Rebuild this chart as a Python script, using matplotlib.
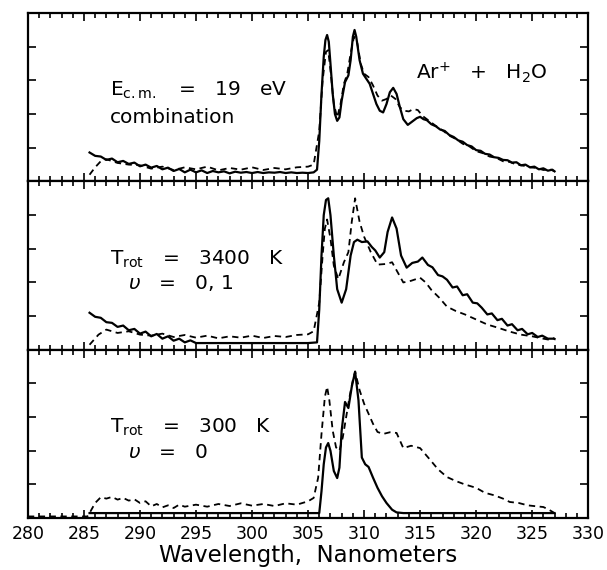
import matplotlib
matplotlib.use("Agg")
import matplotlib.pyplot as plt
from matplotlib.ticker import MultipleLocator

# Emission spectra, Ar+ + H2O; intensities in arbitrary units (0-5 per panel)

# Panel 1: Ecm = 19 eV, combination (solid) vs experiment (dashed)
p1_solid_x = [285.5, 286.0, 286.5, 287.0, 287.5, 288.0, 288.5, 289.0, 289.5, 290.0,
              290.5, 291.0, 291.5, 292.0, 292.5, 293.0, 293.5, 294.0, 294.5, 295.0,
              295.5, 296.0, 296.5, 297.0, 297.5, 298.0, 298.5, 299.0, 299.5, 300.0,
              300.5, 301.0, 301.5, 302.0, 302.5, 303.0, 303.5, 304.0, 304.5, 305.0,
              305.5, 305.8, 306.0, 306.2, 306.4, 306.55, 306.7, 306.85, 307.0, 307.2,
              307.4, 307.6, 307.8, 308.0, 308.3, 308.6, 308.8, 309.0, 309.15, 309.3,
              309.6, 309.9, 310.2, 310.5, 310.8, 311.1, 311.4, 311.7, 312.0, 312.3,
              312.6, 312.9, 313.2, 313.5, 313.9, 314.3, 314.7, 315.0, 315.3, 315.6,
              316.0, 316.4, 316.8, 317.2, 317.6, 318.0, 318.4, 318.8, 319.2, 319.6,
              320.0, 320.4, 320.8, 321.2, 321.6, 322.0, 322.4, 322.8, 323.2, 323.6,
              324.0, 324.4, 324.8, 325.2, 325.6, 326.0, 326.4, 326.8, 327.0]
p1_solid_y = [0.86, 0.76, 0.74, 0.64, 0.68, 0.57, 0.61, 0.52, 0.56, 0.45,
              0.50, 0.41, 0.46, 0.36, 0.41, 0.31, 0.37, 0.27, 0.35, 0.27,
              0.33, 0.25, 0.31, 0.27, 0.30, 0.24, 0.29, 0.26, 0.28, 0.25,
              0.28, 0.25, 0.27, 0.26, 0.28, 0.25, 0.27, 0.25, 0.26, 0.25,
              0.27, 0.35, 1.20, 2.60, 3.70, 4.20, 4.35, 4.15, 3.50, 2.60,
              2.00, 1.80, 1.90, 2.40, 2.95, 3.15, 3.60, 4.30, 4.50, 4.30,
              3.60, 3.20, 3.05, 2.90, 2.60, 2.30, 2.10, 2.05, 2.30, 2.65,
              2.78, 2.60, 2.20, 1.85, 1.68, 1.78, 1.88, 1.92, 1.85, 1.82,
              1.70, 1.64, 1.54, 1.50, 1.38, 1.32, 1.22, 1.18, 1.08, 1.04,
              0.93, 0.91, 0.82, 0.80, 0.72, 0.70, 0.64, 0.63, 0.56, 0.57,
              0.48, 0.50, 0.42, 0.44, 0.36, 0.39, 0.32, 0.35, 0.30]
p1_dash_x = [285.5, 286.0, 286.5, 287.0, 288.0, 289.0, 290.0, 291.0, 292.0, 293.0,
             294.0, 295.0, 296.0, 297.0, 298.0, 299.0, 300.0, 301.0, 302.0, 303.0,
             304.0, 305.0, 305.5, 306.0, 306.3, 306.6, 306.8, 307.0, 307.3, 307.6,
             307.9, 308.2, 308.5, 308.8, 309.1, 309.4, 309.7, 310.0, 310.4, 310.8,
             311.2, 311.6, 312.0, 312.4, 312.8, 313.2, 313.6, 314.0, 314.4, 314.8,
             315.2, 315.8, 316.4, 317.0, 317.6, 318.2, 318.8, 319.4, 320.0, 320.6,
             321.2, 321.8, 322.4, 323.0, 323.6, 324.2, 324.8, 325.4, 326.0, 326.6, 327.0]
p1_dash_y = [0.20, 0.42, 0.60, 0.66, 0.55, 0.50, 0.48, 0.38, 0.44, 0.34,
             0.42, 0.36, 0.44, 0.33, 0.40, 0.35, 0.42, 0.34, 0.40, 0.36,
             0.42, 0.44, 0.50, 1.50, 3.00, 3.85, 3.90, 3.30, 2.30, 1.90,
             2.30, 2.90, 3.20, 3.80, 4.30, 4.10, 3.50, 3.20, 3.10, 2.85,
             2.55, 2.40, 2.45, 2.55, 2.45, 2.20, 2.10, 2.08, 2.15, 2.12,
             1.95, 1.80, 1.65, 1.52, 1.36, 1.26, 1.12, 1.04, 0.90, 0.84,
             0.74, 0.70, 0.60, 0.58, 0.50, 0.47, 0.42, 0.40, 0.34, 0.36, 0.30]

# Panel 2: Trot = 3400 K, v = 0, 1
p2_solid_x = [285.5, 286.0, 286.5, 287.0, 287.5, 288.0, 288.5, 289.0, 289.5, 290.0,
              290.5, 291.0, 291.5, 292.0, 292.5, 293.0, 293.5, 294.0, 294.5, 295.0,
              296.0, 297.0, 298.0, 299.0, 300.0, 301.0, 302.0, 303.0, 304.0, 305.0,
              305.8, 306.0, 306.2, 306.4, 306.6, 306.8, 307.0, 307.3, 307.6, 308.0,
              308.4, 308.8, 309.1, 309.4, 309.8, 310.3, 310.7, 311.0, 311.4, 311.8,
              312.1, 312.5, 312.9, 313.3, 313.8, 314.3, 314.8, 315.2, 315.7, 316.1,
              316.6, 317.0, 317.4, 317.9, 318.3, 318.8, 319.2, 319.7, 320.1, 320.5,
              321.0, 321.4, 321.9, 322.3, 322.8, 323.2, 323.7, 324.1, 324.6, 325.0,
              325.5, 325.9, 326.4, 326.9, 327.0]
p2_solid_y = [1.10, 0.98, 0.95, 0.82, 0.80, 0.68, 0.72, 0.58, 0.62, 0.48,
              0.54, 0.40, 0.47, 0.33, 0.40, 0.27, 0.33, 0.22, 0.28, 0.20,
              0.20, 0.20, 0.20, 0.20, 0.20, 0.20, 0.20, 0.20, 0.20, 0.20,
              0.22, 1.20, 2.80, 4.00, 4.45, 4.50, 4.00, 2.80, 1.80, 1.40,
              1.80, 2.80, 3.20, 3.27, 3.20, 3.22, 3.05, 2.95, 2.74, 2.90,
              3.50, 3.93, 3.60, 2.80, 2.44, 2.58, 2.62, 2.74, 2.52, 2.45,
              2.22, 2.18, 2.08, 1.85, 1.88, 1.62, 1.65, 1.40, 1.38, 1.25,
              1.05, 1.08, 0.88, 0.92, 0.72, 0.76, 0.58, 0.62, 0.46, 0.50,
              0.38, 0.42, 0.33, 0.33, 0.32]
p2_dash_x = [285.5, 286.3, 287.0, 288.0, 289.0, 290.0, 291.0, 292.0, 293.0, 294.0,
             295.0, 296.0, 297.0, 298.0, 299.0, 300.0, 301.0, 302.0, 303.0, 304.0,
             305.0, 305.5, 306.0, 306.3, 306.5, 306.7, 307.0, 307.3, 307.7, 308.2,
             308.6, 308.9, 309.2, 309.6, 310.0, 310.6, 311.2, 312.0, 312.5, 313.0,
             313.5, 314.2, 315.0, 315.5, 316.0, 316.7, 317.4, 318.2, 319.0, 320.0,
             321.0, 322.0, 323.0, 324.0, 325.0, 326.0, 326.5, 327.0]
p2_dash_y = [0.15, 0.45, 0.60, 0.50, 0.55, 0.45, 0.42, 0.48, 0.38, 0.44,
             0.36, 0.42, 0.34, 0.40, 0.36, 0.42, 0.35, 0.41, 0.38, 0.44,
             0.46, 0.55, 1.40, 2.80, 3.60, 3.87, 3.30, 2.50, 2.10, 2.60,
             2.90, 3.80, 4.50, 3.80, 3.36, 2.90, 2.53, 2.55, 2.60, 2.30,
             2.00, 2.05, 2.14, 2.00, 1.78, 1.55, 1.28, 1.15, 1.05, 0.90,
             0.75, 0.65, 0.54, 0.45, 0.40, 0.33, 0.30, 0.35]

# Panel 3: Trot = 300 K, v = 0
p3_solid_x = [285.5, 290.0, 295.0, 300.0, 305.0, 306.0, 306.2, 306.4, 306.6, 306.8,
              307.0, 307.3, 307.6, 307.8, 308.0, 308.3, 308.6, 308.9, 309.2, 309.5,
              309.8, 310.1, 310.4, 310.8, 311.2, 311.6, 312.0, 312.5, 312.9, 313.5,
              320.0, 327.0]
p3_solid_y = [0.15, 0.15, 0.15, 0.15, 0.15, 0.15, 0.80, 1.60, 2.10, 2.23,
              2.00, 1.40, 1.19, 1.50, 2.60, 3.45, 3.27, 3.90, 4.35, 3.50,
              1.80, 1.60, 1.52, 1.20, 0.90, 0.65, 0.45, 0.25, 0.17, 0.15,
              0.15, 0.15]
p3_dash_x = [280.0, 285.3, 285.5, 286.0, 286.5, 287.0, 287.5, 288.0, 288.5, 289.0,
             289.5, 290.0, 290.5, 291.0, 291.5, 292.0, 292.5, 293.0, 293.5, 294.0,
             295.0, 296.0, 297.0, 298.0, 299.0, 300.0, 301.0, 302.0, 303.0, 304.0,
             305.0, 305.5, 305.9, 306.2, 306.5, 306.7, 306.9, 307.2, 307.5, 307.8,
             308.1, 308.4, 308.7, 309.0, 309.2, 309.6, 310.0, 310.4, 310.8, 311.2,
             311.7, 312.3, 312.9, 313.5, 314.2, 315.0, 315.9, 316.6, 317.4, 318.2,
             319.0, 320.0, 320.8, 321.6, 322.4, 323.0, 323.8, 324.6, 325.4, 326.0,
             326.5, 327.0]
p3_dash_y = [0.05, 0.05, 0.15, 0.45, 0.62, 0.58, 0.63, 0.55, 0.60, 0.52,
             0.56, 0.45, 0.50, 0.35, 0.42, 0.32, 0.38, 0.30, 0.40, 0.34,
             0.40, 0.34, 0.42, 0.36, 0.44, 0.37, 0.42, 0.36, 0.44, 0.40,
             0.50, 0.60, 1.20, 2.50, 3.60, 3.90, 3.50, 2.60, 2.10, 2.00,
             2.40, 3.00, 3.60, 4.10, 4.35, 3.80, 3.40, 3.10, 2.80, 2.56,
             2.50, 2.55, 2.53, 2.08, 2.15, 2.08, 1.73, 1.45, 1.22, 1.10,
             1.00, 0.90, 0.75, 0.68, 0.58, 0.48, 0.45, 0.38, 0.35, 0.33,
             0.25, 0.15]

panels = [
    (p1_solid_x, p1_solid_y, p1_dash_x, p1_dash_y),
    (p2_solid_x, p2_solid_y, p2_dash_x, p2_dash_y),
    (p3_solid_x, p3_solid_y, p3_dash_x, p3_dash_y),
]
x_ticks = [280, 285, 290, 295, 300, 305, 310, 315, 320, 325, 330]

fig, axes = plt.subplots(3, 1, sharex=True, figsize=(6.07, 5.70), dpi=100)
fig.subplots_adjust(left=0.046, right=0.969, top=0.977, bottom=0.091, hspace=0)

for ax, (sx, sy, dx, dy) in zip(axes, panels):
    ax.plot(dx, dy, color="black", linewidth=1.3, linestyle=(0, (3.5, 2.5)))
    ax.plot(sx, sy, color="black", linewidth=1.6)
    ax.set_xlim(280, 330)
    ax.set_ylim(0, 5)
    ax.set_yticks([1, 2, 3, 4])
    ax.yaxis.set_major_formatter(plt.NullFormatter())
    ax.xaxis.set_minor_locator(MultipleLocator(1))
    ax.tick_params(which="both", direction="in", top=True, right=True, width=1.2)
    ax.tick_params(which="major", length=6)
    ax.tick_params(which="minor", length=3.5)
    for spine in ax.spines.values():
        spine.set_linewidth(1.6)

axes[2].set_xticks(x_ticks)
axes[2].tick_params(axis="x", labelsize=12.5, pad=5)
axes[2].set_xlabel("Wavelength,  Nanometers", fontsize=16.5, labelpad=1)

fs = 14.5
axes[0].text(287.3, 2.72, r"E$_{\rm c.m.}$   =   19   eV", fontsize=fs, va="center")
axes[0].text(287.3, 1.90, "combination", fontsize=fs, va="center")
axes[0].text(314.6, 3.22, r"Ar$^{+}$   +   H$_2$O", fontsize=fs, va="center")

axes[1].text(287.3, 2.68, r"T$_{\rm rot}$   =   3400   K", fontsize=fs, va="center")
axes[1].text(288.9, 1.99, r"$\upsilon$   =   0, 1", fontsize=fs, va="center")

axes[2].text(287.3, 2.71, r"T$_{\rm rot}$   =   300   K", fontsize=fs, va="center")
axes[2].text(288.9, 1.96, r"$\upsilon$   =   0", fontsize=fs, va="center")

plt.savefig("out.png", dpi=100)
plt.close(fig)
